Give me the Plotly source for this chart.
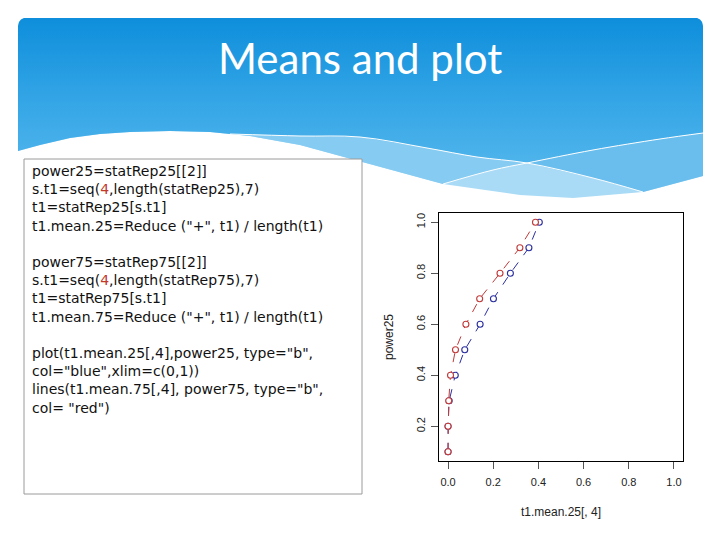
import plotly.graph_objects as go

# ---- data ----
power25 = [0.1, 0.2, 0.3, 0.4, 0.5, 0.6, 0.7, 0.8, 0.9, 1.0]
power75 = [0.1, 0.2, 0.3, 0.4, 0.5, 0.6, 0.7, 0.8, 0.9, 1.0]
mean25 = [0.0, 0.0, 0.005, 0.032, 0.074, 0.142, 0.201, 0.276, 0.358, 0.404]
mean75 = [0.0, 0.0, 0.003, 0.011, 0.033, 0.079, 0.140, 0.230, 0.318, 0.387]
x_ticks = [0.0, 0.2, 0.4, 0.6, 0.8, 1.0]
y_ticks = [0.2, 0.4, 0.6, 0.8, 1.0]

title_text = "Means and plot"
code_lines = [
    "power25=statRep25[[2]]",
    "s.t1=seq(<span style='color:#c0392b'>4</span>,length(statRep25),7)",
    "t1=statRep25[s.t1]",
    "t1.mean.25=Reduce (\"+\", t1) / length(t1)",
    "",
    "power75=statRep75[[2]]",
    "s.t1=seq(<span style='color:#c0392b'>4</span>,length(statRep75),7)",
    "t1=statRep75[s.t1]",
    "t1.mean.75=Reduce (\"+\", t1) / length(t1)",
    "",
    "plot(t1.mean.25[,4],power25, type=\"b\",",
    "col=\"blue\",xlim=c(0,1))",
    "lines(t1.mean.75[,4], power75, type=\"b\",",
    "col= \"red\")",
]

W, H = 720, 540
fig = go.Figure()

# ---- decorative slide header (pixel coordinates on overlay axes x2/y2) ----
top = [(18, 26), (19, 22), (21, 19.5), (24, 18), (697, 18), (700, 19.5), (702, 22), (703, 26)]
outer_left = [(18, 151), (40, 145), (70, 138), (100, 134), (130, 132), (170, 131), (210, 132), (230, 134)]
outer_rest = [(250, 136), (300, 145), (360, 161), (443, 184), (520, 195), (573, 198), (643, 192), (703, 176)]
line1 = [(230, 134), (300, 136), (360, 137), (427, 148), (477, 157), (527, 163), (593, 178), (643, 192)]
line2 = [(443, 184), (493, 170), (527, 163), (593, 150), (660, 139), (703, 133)]


def poly(pts, color, **kw):
    xs = [p[0] for p in pts] + [pts[0][0]]
    ys = [p[1] for p in pts] + [pts[0][1]]
    fig.add_trace(go.Scatter(x=xs, y=ys, xaxis="x2", yaxis="y2", mode="lines",
                             fill="toself", fillcolor=color, line=dict(width=0),
                             hoverinfo="skip", showlegend=False, **kw))


base = top + list(reversed(outer_rest)) + list(reversed(outer_left))
poly(base, "#a9dbf6")
left_wedge = line1[:6] + list(reversed(line2[:3]))[1:] + [(360, 161), (300, 145), (250, 136)]
poly(left_wedge, "#86cbf2")
right_wedge = line2[2:] + [(703, 176), (643, 192)] + list(reversed(line1[5:7]))
poly(right_wedge, "#69beee")
main = top + list(reversed(line2[2:])) + list(reversed(line1[:5])) + list(reversed(outer_left))
xs = [p[0] for p in main] + [main[0][0]]
ys = [p[1] for p in main] + [main[0][1]]
fig.add_trace(go.Scatter(
    x=xs, y=ys, xaxis="x2", yaxis="y2", mode="lines", fill="toself",
    fillgradient=dict(type="vertical", start=18, stop=165,
                      colorscale=[[0, "#0e8edb"], [0.55, "#33a5e6"], [1, "#4fb4eb"]]),
    line=dict(width=0), hoverinfo="skip", showlegend=False))
for ln in (line1, line2):
    fig.add_trace(go.Scatter(x=[p[0] for p in ln], y=[p[1] for p in ln], xaxis="x2", yaxis="y2",
                             mode="lines", line=dict(color="white", width=1, shape="spline"),
                             hoverinfo="skip", showlegend=False))

# ---- data traces ----
fig.add_trace(go.Scatter(
    x=mean25, y=power25, mode="lines+markers", showlegend=False,
    line=dict(color="#2b2f9e", width=1, dash="dash"),
    marker=dict(symbol="circle", size=6, color="white", line=dict(color="#2b2f9e", width=1.1))))
fig.add_trace(go.Scatter(
    x=mean75, y=power75, mode="lines+markers", showlegend=False,
    line=dict(color="#c03a3a", width=1, dash="dash"),
    marker=dict(symbol="circle", size=6, color="white", line=dict(color="#c03a3a", width=1.1))))

# ---- text box with code ----
fig.add_shape(type="rect", xref="x2", yref="y2", x0=24, x1=362, y0=159, y1=494,
              line=dict(color="#9a9a9a", width=1), fillcolor="white", layer="above")
fig.add_annotation(xref="x2", yref="y2", x=30, y=161, text="<br>".join(code_lines),
                   showarrow=False, xanchor="left", yanchor="top", align="left",
                   font=dict(family="DejaVu Sans", size=14, color="#111111"))

fig.add_annotation(xref="x2", yref="y2", x=360, y=58, text=title_text, showarrow=False,
                   xanchor="center", yanchor="middle",
                   font=dict(family="Lato", size=42, color="white"))

axis_font = dict(family="Liberation Sans", size=11, color="#222222")
title_font = dict(family="Liberation Sans", size=12, color="#222222")
fig.update_layout(
    width=W, height=H, margin=dict(l=0, r=0, t=0, b=0),
    paper_bgcolor="white", plot_bgcolor="rgba(0,0,0,0)",
    xaxis=dict(domain=[439 / W, 683 / W], range=[-0.04, 1.04], tickvals=x_ticks,
               ticktext=["%.1f" % v for v in x_ticks], ticks="outside", ticklen=7,
               tickcolor="#555555", showline=True, linecolor="black", linewidth=1, mirror=True,
               showgrid=False, zeroline=False, tickfont=axis_font, anchor="y",
               ticklabelstandoff=4,
               title=dict(text="t1.mean.25[, 4]", font=title_font, standoff=20)),
    yaxis=dict(domain=[(H - 461) / H, (H - 213) / H], range=[0.064, 1.036], tickvals=y_ticks,
               ticktext=["%.1f" % v for v in y_ticks], ticks="outside", ticklen=7,
               tickcolor="#555555", showline=True, linecolor="black", linewidth=1, mirror=True,
               showgrid=False, zeroline=False, tickfont=axis_font, tickangle=-90, anchor="x",
               ticklabelstandoff=2,
               title=dict(text="power25", font=title_font, standoff=18)),
    xaxis2=dict(domain=[0, 1], range=[0, W], visible=False, anchor="y2", fixedrange=True),
    yaxis2=dict(domain=[0, 1], range=[H, 0], visible=False, anchor="x2", fixedrange=True),
)

fig.write_html("out.html", config={"displayModeBar": False, "staticPlot": True},
               post_script="document.body.style.margin='0px';")
